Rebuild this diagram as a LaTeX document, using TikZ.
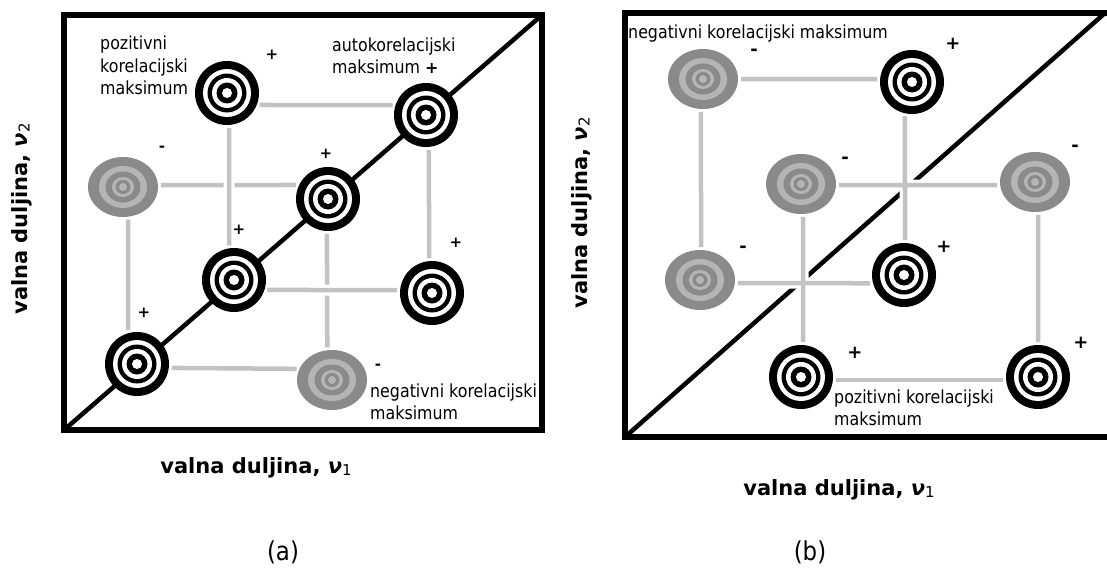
\documentclass[tikz,border=0pt]{standalone}
\usepackage{fontspec}
\newfontfamily\labfont[FakeStretch=0.88]{DejaVu Sans}
\newfontfamily\axfont{DejaVu Sans}
\usetikzlibrary{shapes.geometric}
\definecolor{ringdark}{gray}{0.54}
\definecolor{ringlight}{gray}{0.71}
\definecolor{linkgray}{gray}{0.76}

\begin{document}
\begin{tikzpicture}
  [x=1pt,y=-1pt,
   posmax/.style={circle,fill=black,minimum size=64pt,inner sep=0pt,outer sep=0pt,
     path picture={
       \foreach \rad/\col in {24/white,19.5/black,15/white,10.5/black,5/white}
         \fill[\col] (path picture bounding box.center) circle (\rad pt);}},
   negmax/.style={ellipse,fill=ringdark,minimum width=70pt,minimum height=60pt,inner sep=0pt,outer sep=0pt,
     path picture={
       \foreach \rx/\ry/\col in {24/21/ringlight,17.5/15.5/ringdark,11/10/ringlight,7.5/7/ringdark,4/4/ringlight}
         \fill[\col] (path picture bounding box.center) ellipse [x radius=\rx pt,y radius=\ry pt];}},
   link/.style={draw=linkgray,line width=4.5pt,shorten <=3pt,shorten >=3pt},
   linkover/.style={link,preaction={draw=white,line width=11pt}},
   halo/.style={draw=white,line width=11pt,shorten <=3pt,shorten >=3pt},
   frame/.style={line width=6pt},
   diag/.style={line width=4.5pt},
   lab/.style={inner sep=0pt,align=left,anchor=base west,font=\labfont\fontsize{18}{22}\selectfont},
   sgn/.style={inner sep=0pt,font=\axfont\bfseries\fontsize{15}{15}\selectfont},
   bigsgn/.style={inner sep=0pt,font=\axfont\bfseries\fontsize{18}{18}\selectfont},
   ax/.style={inner sep=0pt,font=\axfont\bfseries\fontsize{21}{21}\selectfont},
   capt/.style={inner sep=0pt,font=\labfont\fontsize{26}{26}\selectfont}]
  \useasboundingbox (0,0) rectangle (1107,586);

  % frames
  \coordinate (a-sw) at (64,430);
  \coordinate (a-ne) at (542,15);
  \coordinate (b-sw) at (625,437);
  \coordinate (b-ne) at (1105,13);
  \draw[frame] (a-sw) rectangle (a-ne);
  \draw[diag] (a-sw) -- (a-ne);
  \draw[frame] (1107,13) -- (625,13) -- (b-sw) -- (1107,437);
  \draw[diag] (b-sw) -- (b-ne);

  % (a)
  \node[posmax] (a1) at (227,93) {};
  \node[posmax] (a2) at (426,115) {};
  \node[negmax] (a3) at (123,187) {};
  \node[posmax] (a4) at (328,199) {};
  \node[posmax] (a5) at (234,280) {};
  \node[posmax] (a6) at (432,293) {};
  \node[posmax] (a7) at (137,364) {};
  \node[negmax] (a8) at (332,380) {};

  % (b)
  \node[negmax] (b1) at (703,79) {};
  \node[posmax] (b2) at (912,82) {};
  \node[negmax] (b3) at (801,184) {};
  \node[negmax] (b4) at (1035,182) {};
  \node[negmax] (b5) at (700,280) {};
  \node[posmax] (b6) at (904,275) {};
  \node[posmax] (b7) at (801,377) {};
  \node[posmax] (b8) at (1038,377) {};

  \foreach \from/\to in {a1.-22/a2.162,a3.3/a4.154,a3.-80/a7.106,a2.-85/a6.95,a4.-92/a8.99,a7.-7/a8.161}
    \draw[link] (\from) -- (\to);
  \foreach \from/\to in {a1.-86/a5.99,a5.-18/a6.175}
    \draw[linkover] (\from) -- (\to);

  \foreach \from/\to in {b2.-103/b6.88,b3.-2/b4.-175,b3.-86/b7.86,b5.-5/b6.-165}
    \draw[halo] (\from) -- (\to);
  \foreach \from/\to in {b1.0/b2.175,b1.-94/b5.88,b2.-103/b6.88,b3.-2/b4.-175,
    b3.-86/b7.86,b5.-5/b6.-165,b4.-84/b8.90,b7.-5/b8.-175}
    \draw[link] (\from) -- (\to);

  % labels (base = last line)
  \node[lab] (a-pos) at (100,94) {pozitivni\\korelacijski\\maksimum};
  \node[lab] (a-auto) at (332,74) {autokorelacijski\\maksimum {\axfont\bfseries\fontsize{16}{16}\selectfont +}};
  \node[lab] (a-neg) at (370,419) {negativni korelacijski\\maksimum};
  \node[lab] (b-neg) at (628,39) {negativni korelacijski maksimum};
  \node[lab] (b-pos) at (834,425) {pozitivni korelacijski\\maksimum};

  \node[sgn] (sa1) at (272,55) {+};
  \node[sgn] (sa3) at (162,149) {-};
  \node[sgn] (sa4) at (326,154) {+};
  \node[sgn] (sa5) at (239,230) {+};
  \node[sgn] (sa6) at (456,243) {+};
  \node[sgn] (sa7) at (144,313) {+};
  \node[sgn] (sa8) at (378,367) {-};

  \node[bigsgn] (sb1) at (754,52) {-};
  \node[bigsgn] (sb2) at (953,44) {+};
  \node[bigsgn] (sb3) at (845,160) {-};
  \node[bigsgn] (sb4) at (1075,148) {-};
  \node[bigsgn] (sb5) at (743,249) {-};
  \node[bigsgn] (sb6) at (944,247) {+};
  \node[bigsgn] (sb7) at (855,353) {+};
  \node[bigsgn] (sb8) at (1081,343) {+};

  \node[ax] (a-x) at (256,468) {valna duljina, {\itshape ν}{\mdseries\fontsize{15}{15}\selectfont\raisebox{-2pt}{1}}};
  \node[ax,rotate=90] (a-y) at (22,219) {valna duljina, {\itshape ν}{\mdseries\fontsize{15}{15}\selectfont\raisebox{-2pt}{2}}};
  \node[ax] (b-x) at (839,490) {valna duljina, {\itshape ν}{\mdseries\fontsize{15}{15}\selectfont\raisebox{-2pt}{1}}};
  \node[ax,rotate=90] (b-y) at (582,213) {valna duljina, {\itshape ν}{\mdseries\fontsize{15}{15}\selectfont\raisebox{-2pt}{2}}};

  \node[capt] (a-cap) at (283,552) {(a)};
  \node[capt] (b-cap) at (810,552) {(b)};
\end{tikzpicture}
\end{document}
